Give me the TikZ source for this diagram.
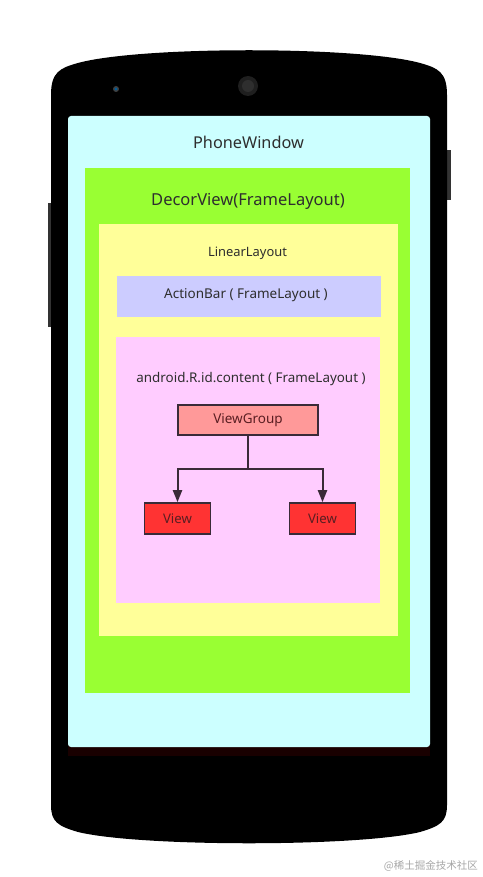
\documentclass[tikz,border=0pt]{standalone}
\usepackage{fontspec}
\setmainfont{Noto Sans}
\newfontfamily\cjk{Noto Sans CJK SC}
\usetikzlibrary{arrows.meta}
\definecolor{cyanbg}{HTML}{CCFFFF}
\definecolor{greenbg}{HTML}{99FF33}
\definecolor{yellowbg}{HTML}{FFFF99}
\definecolor{lavbg}{HTML}{CCCCFF}
\definecolor{pinkbg}{HTML}{FFCCFF}
\definecolor{vgfill}{HTML}{FF9999}
\definecolor{vfill}{HTML}{FF3333}
\definecolor{edge}{HTML}{3A2A38}
\definecolor{txt}{HTML}{2E2E2E}
\definecolor{boxtxt}{HTML}{5A1E22}
\tikzset{
  panel/.style={draw=none, inner sep=0pt, outer sep=0pt},
  label/.style={text=txt, inner sep=0pt},
  treebox/.style={draw=edge, line width=1.6pt, inner sep=0pt, text=boxtxt},
  link/.style={draw=edge, line width=2pt},
  arrowlink/.style={link, -{Triangle[width=9pt,length=12pt]}}
}
\begin{document}
\begin{tikzpicture}[x=1pt,y=-1pt]
\useasboundingbox (0,0) rectangle (482,877);
% side buttons
\fill[black!80] (47.5,203) rectangle (52,327);
\fill[black!80] (446,150) rectangle (450.5,200);
% phone body
\fill[black] (51,110) -- (51,95) .. controls (51,72) and (60,68) .. (78,63)
  .. controls (140,46) and (358,46) .. (420,63)
  .. controls (438,68) and (447,72) .. (447,95) -- (447,805)
  .. controls (447,822) and (440,826) .. (420,832)
  .. controls (358,847) and (140,847) .. (78,832)
  .. controls (58,826) and (51,822) .. (51,805) -- cycle;
% camera and sensor
\fill[black!88] (248,86) circle (10);
\fill[black!82] (248,86) circle (6);
\fill[black!75] (116,89) circle (3);
\fill[blue!40!cyan!60!black] (116,89) circle (1.6);
% dark strip under screen
\fill[black!90!red] (68,740) rectangle (430,756);
% screen
\node[panel, fill=cyanbg, rounded corners=3pt, minimum width=362pt, minimum height=631pt] (screen) at (249,431.5) {};
\node[label, font=\fontsize{16.3}{19}\selectfont] (phonewindow) at (248.5,142) {PhoneWindow};
% decor view
\node[panel, fill=greenbg, minimum width=325pt, minimum height=525pt] (decor) at (247.5,430.5) {};
\node[label, font=\fontsize{16.5}{19}\selectfont] (decortitle) at (248,201.5) {DecorView(FrameLayout)};
% linear layout
\node[panel, fill=yellowbg, minimum width=299pt, minimum height=412pt] (linear) at (248.5,430) {};
\node[label, font=\fontsize{12.9}{15}\selectfont] (lineartitle) at (247.5,253) {LinearLayout};
% action bar
\node[panel, fill=lavbg, minimum width=264pt, minimum height=41pt] (actionbar) at (249,296.5) {};
\node[label, font=\fontsize{13.5}{15}\selectfont] (actiontitle) at (246,295) {ActionBar ( FrameLayout )};
% content
\node[panel, fill=pinkbg, minimum width=264pt, minimum height=266pt] (content) at (248,470) {};
\node[label, font=\fontsize{13.4}{15}\selectfont] (contenttitle) at (251,379) {android.R.id.content ( FrameLayout )};
% tree
\node[treebox, fill=vgfill, minimum width=140pt, minimum height=30pt, font=\fontsize{13.5}{15}\selectfont] (viewgroup) at (248,420) {ViewGroup};
\node[treebox, fill=vfill, minimum width=66pt, minimum height=31pt, font=\fontsize{13.2}{15}\selectfont] (viewL) at (177.5,518.5) {View};
\node[treebox, fill=vfill, minimum width=66pt, minimum height=31pt, font=\fontsize{13.2}{15}\selectfont] (viewR) at (322.5,518.5) {View};
\coordinate (junction) at (248,469);
\draw[link] (viewgroup.south) -- (junction);
\draw[arrowlink] (junction) -| (viewL.north);
\draw[arrowlink] (junction) -| (viewR.north);
% watermark
\node[anchor=east, inner sep=0pt, text=black!35, font=\cjk\fontsize{10.5}{12}\selectfont] (watermark) at (478,866) {@稀土掘金技术社区};
\end{tikzpicture}
\end{document}
